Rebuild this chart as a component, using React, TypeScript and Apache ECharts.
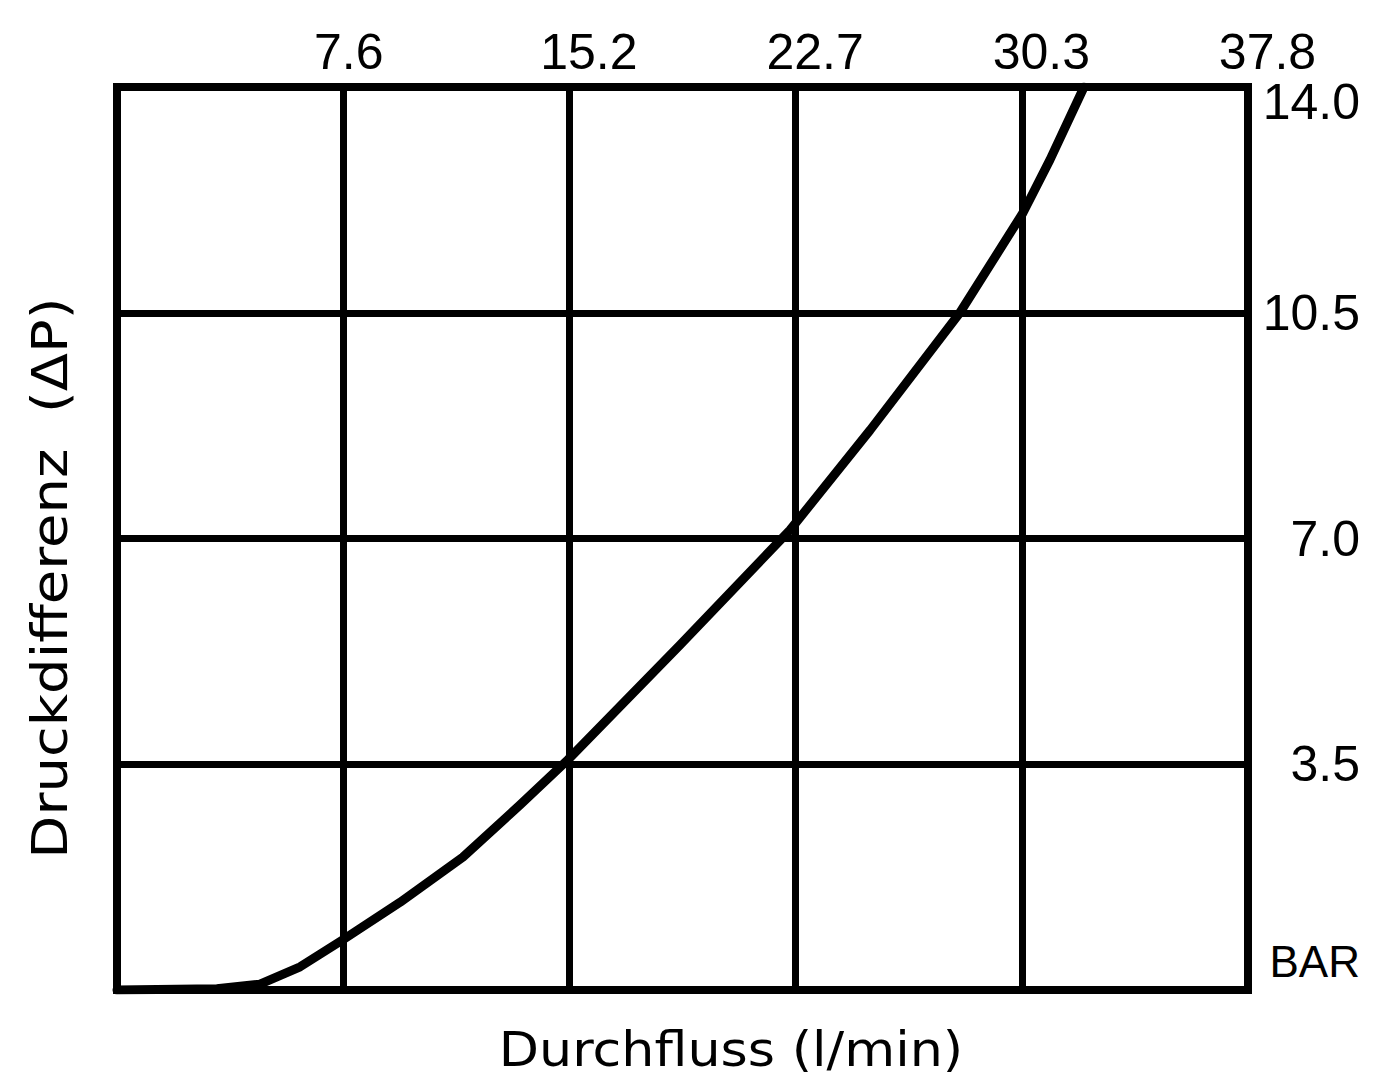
import React, { useEffect, useRef } from "react";
import * as echarts from "echarts";

const flowValues = [0, 3.34, 4.78, 6.12, 7.55, 9.46, 11.56, 13.47, 15.07, 18.82, 22.49, 25.17, 28.17, 30.28, 31.18, 32.32];
const pressureValues = [0, 0.02, 0.09, 0.36, 0.78, 1.36, 2.06, 2.87, 3.57, 5.35, 7.13, 8.68, 10.5, 12.05, 12.87, 14.0];
const xTickLabels = ["", "7.6", "15.2", "22.7", "30.3", "37.8"];
const yTickLabels = ["BAR", "3.5", "7.0", "10.5", "14.0"];
const xMax = 37.8;
const xStep = 7.56;
const yMax = 14;
const yStep = 3.5;
const xTitle = "Durchfluss (l/min)";
const yTitle = "Druckdifferenz  (ΔP)";

export default function App() {
  const ref = useRef<HTMLDivElement>(null);
  useEffect(() => {
    document.body.style.margin = "0";
    const chart = echarts.init(ref.current!, null, { renderer: "svg" });
    const data = flowValues.map((x, i) => [x, pressureValues[i]]);
    chart.setOption({
      animation: false,
      backgroundColor: "#fff",
      grid: {
        left: 117,
        right: 150,
        top: 87,
        bottom: 87,
        show: true,
        borderColor: "#000",
        borderWidth: 8,
        backgroundColor: "transparent",
      },
      xAxis: {
        type: "value",
        position: "top",
        min: 0,
        max: xMax,
        interval: xStep,
        axisLine: { show: false },
        axisTick: { show: false },
        splitLine: { show: true, lineStyle: { color: "#000", width: 7 } },
        axisLabel: {
          margin: 10,
          color: "#000",
          fontFamily: "Liberation Sans",
          fontSize: 50,
          formatter: (v: number) => {
            const lab = xTickLabels[Math.round(v / xStep)] ?? "";
            if (!lab) return "";
            return lab.length > 3 ? `{w4|${lab}}` : `{w3|${lab}}`;
          },
          rich: {
            w4: { fontFamily: "Liberation Sans", fontSize: 50, color: "#000", padding: [0, 0, 0, 39] },
            w3: { fontFamily: "Liberation Sans", fontSize: 50, color: "#000", padding: [0, 0, 0, 11] },
          },
        },
      },
      yAxis: {
        type: "value",
        position: "right",
        min: 0,
        max: yMax,
        interval: yStep,
        axisLine: { show: false },
        axisTick: { show: false },
        splitLine: { show: true, lineStyle: { color: "#000", width: 7 } },
        axisLabel: {
          margin: 112,
          align: "right",
          color: "#000",
          fontFamily: "Liberation Sans",
          fontSize: 50,
          formatter: (v: number) => {
            const idx = Math.round(v / yStep);
            const lab = yTickLabels[idx] ?? "";
            if (idx === 0) return `{bar|${lab}}`;
            if (idx === yTickLabels.length - 1) return `{top|${lab}}`;
            return `{n|${lab}}`;
          },
          rich: {
            n: { fontFamily: "Liberation Sans", fontSize: 50, color: "#000" },
            top: { fontFamily: "Liberation Sans", fontSize: 50, color: "#000", padding: [29, 0, 0, 0] },
            bar: { fontFamily: "Liberation Sans", fontSize: 44, color: "#000", padding: [0, 0, 58, 0] },
          },
        },
      },
      series: [
        {
          type: "line",
          data,
          showSymbol: false,
          smooth: false,
          lineStyle: { color: "#000", width: 9, join: "round", cap: "round" },
          z: 5,
        },
      ],
      graphic: [
        {
          type: "text",
          x: 731,
          y: 1049,
          scaleX: 1.09,
          style: {
            text: xTitle,
            fontFamily: "DejaVu Sans",
            fontSize: 48,
            fill: "#000",
            align: "center",
            verticalAlign: "middle",
          },
        },
        {
          type: "text",
          x: 50,
          y: 578,
          rotation: Math.PI / 2,
          scaleX: 1.12,
          style: {
            text: yTitle,
            fontFamily: "DejaVu Sans",
            fontSize: 50,
            fill: "#000",
            align: "center",
            verticalAlign: "middle",
          },
        },
      ],
    });
    return () => chart.dispose();
  }, []);
  return <div ref={ref} style={{ width: 1398, height: 1077 }} />;
}
